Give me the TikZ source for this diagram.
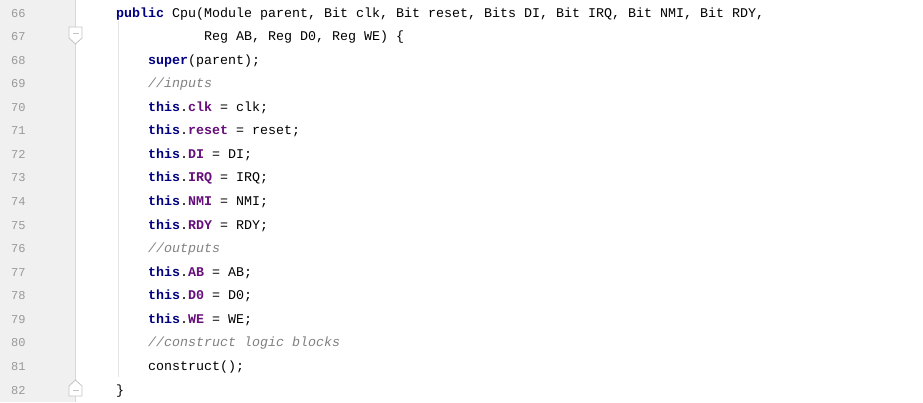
\documentclass[tikz,border=0pt]{standalone}
\usepackage{fontspec}
\setmonofont{Liberation Mono}
\usetikzlibrary{positioning}

\definecolor{gutterbg}{HTML}{F0F0F0}
\definecolor{gutterline}{HTML}{D8D8D8}
\definecolor{lnumgray}{HTML}{999999}
\definecolor{guidegray}{HTML}{E4E4E4}
\definecolor{foldgray}{HTML}{C4C4C4}
\definecolor{kwblue}{HTML}{000080}
\definecolor{fieldpurple}{HTML}{660E7A}
\definecolor{cmtgray}{HTML}{808080}

\newcommand{\kw}[1]{\textcolor{kwblue}{\bfseries #1}}
\newcommand{\fld}[1]{\textcolor{fieldpurple}{\bfseries #1}}
\newcommand{\cmt}[1]{\textcolor{cmtgray}{\itshape #1}}

\begin{document}
\begin{tikzpicture}[x=1pt, y=-1pt,
    lineno/.style={anchor=base west, inner sep=0pt, text=lnumgray, font=\ttfamily\fontsize{12}{12}\selectfont},
    code/.style={anchor=base west, inner sep=0pt, font=\ttfamily\fontsize{13.33}{14}\selectfont},
    fold/.style={draw=foldgray, fill=white, line width=.8pt}]
  \useasboundingbox (0,0) rectangle (923,402);

  \fill[gutterbg] (0,0) rectangle (75,402);
  \draw[gutterline, line width=.8pt] (75,0) -- (75,402);
  \draw[guidegray, line width=.8pt] (118,21) -- (118,377);

  \draw[fold] (69,27) -- (82,27) -- (82,38) -- (75.5,44) -- (69,38) -- cycle;
  \draw[foldgray, line width=.8pt] (72.5,33) -- (78.5,33);
  \draw[fold] (69,396) -- (82,396) -- (82,386) -- (75.5,380) -- (69,386) -- cycle;
  \draw[foldgray, line width=.8pt] (72.5,390) -- (78.5,390);

  \node[lineno] (n66) at (11,17) {66};
  \node[lineno] (n67) at (11,40.6) {67};
  \node[lineno] (n68) at (11,64.1) {68};
  \node[lineno] (n69) at (11,87.7) {69};
  \node[lineno] (n70) at (11,111.2) {70};
  \node[lineno] (n71) at (11,134.8) {71};
  \node[lineno] (n72) at (11,158.4) {72};
  \node[lineno] (n73) at (11,181.9) {73};
  \node[lineno] (n74) at (11,205.5) {74};
  \node[lineno] (n75) at (11,229) {75};
  \node[lineno] (n76) at (11,252.6) {76};
  \node[lineno] (n77) at (11,276.2) {77};
  \node[lineno] (n78) at (11,299.7) {78};
  \node[lineno] (n79) at (11,323.3) {79};
  \node[lineno] (n80) at (11,346.8) {80};
  \node[lineno] (n81) at (11,370.4) {81};
  \node[lineno] (n82) at (11,394) {82};

  \node[code] (c66) at (116,17) {\kw{public} Cpu(Module parent, Bit clk, Bit reset, Bits DI, Bit IRQ, Bit NMI, Bit RDY,};
  \node[code] (c67) at (204,40.6) {Reg AB, Reg D0, Reg WE) \{};
  \node[code] (c68) at (148,64.1) {\kw{super}(parent);};
  \node[code] (c69) at (148,87.7) {\cmt{//inputs}};
  \node[code] (c70) at (148,111.2) {\kw{this}.\fld{clk} = clk;};
  \node[code] (c71) at (148,134.8) {\kw{this}.\fld{reset} = reset;};
  \node[code] (c72) at (148,158.4) {\kw{this}.\fld{DI} = DI;};
  \node[code] (c73) at (148,181.9) {\kw{this}.\fld{IRQ} = IRQ;};
  \node[code] (c74) at (148,205.5) {\kw{this}.\fld{NMI} = NMI;};
  \node[code] (c75) at (148,229) {\kw{this}.\fld{RDY} = RDY;};
  \node[code] (c76) at (148,252.6) {\cmt{//outputs}};
  \node[code] (c77) at (148,276.2) {\kw{this}.\fld{AB} = AB;};
  \node[code] (c78) at (148,299.7) {\kw{this}.\fld{D0} = D0;};
  \node[code] (c79) at (148,323.3) {\kw{this}.\fld{WE} = WE;};
  \node[code] (c80) at (148,346.8) {\cmt{//construct logic blocks}};
  \node[code] (c81) at (148,370.4) {construct();};
  \node[code] (c82) at (116,394) {\}};
\end{tikzpicture}
\end{document}
